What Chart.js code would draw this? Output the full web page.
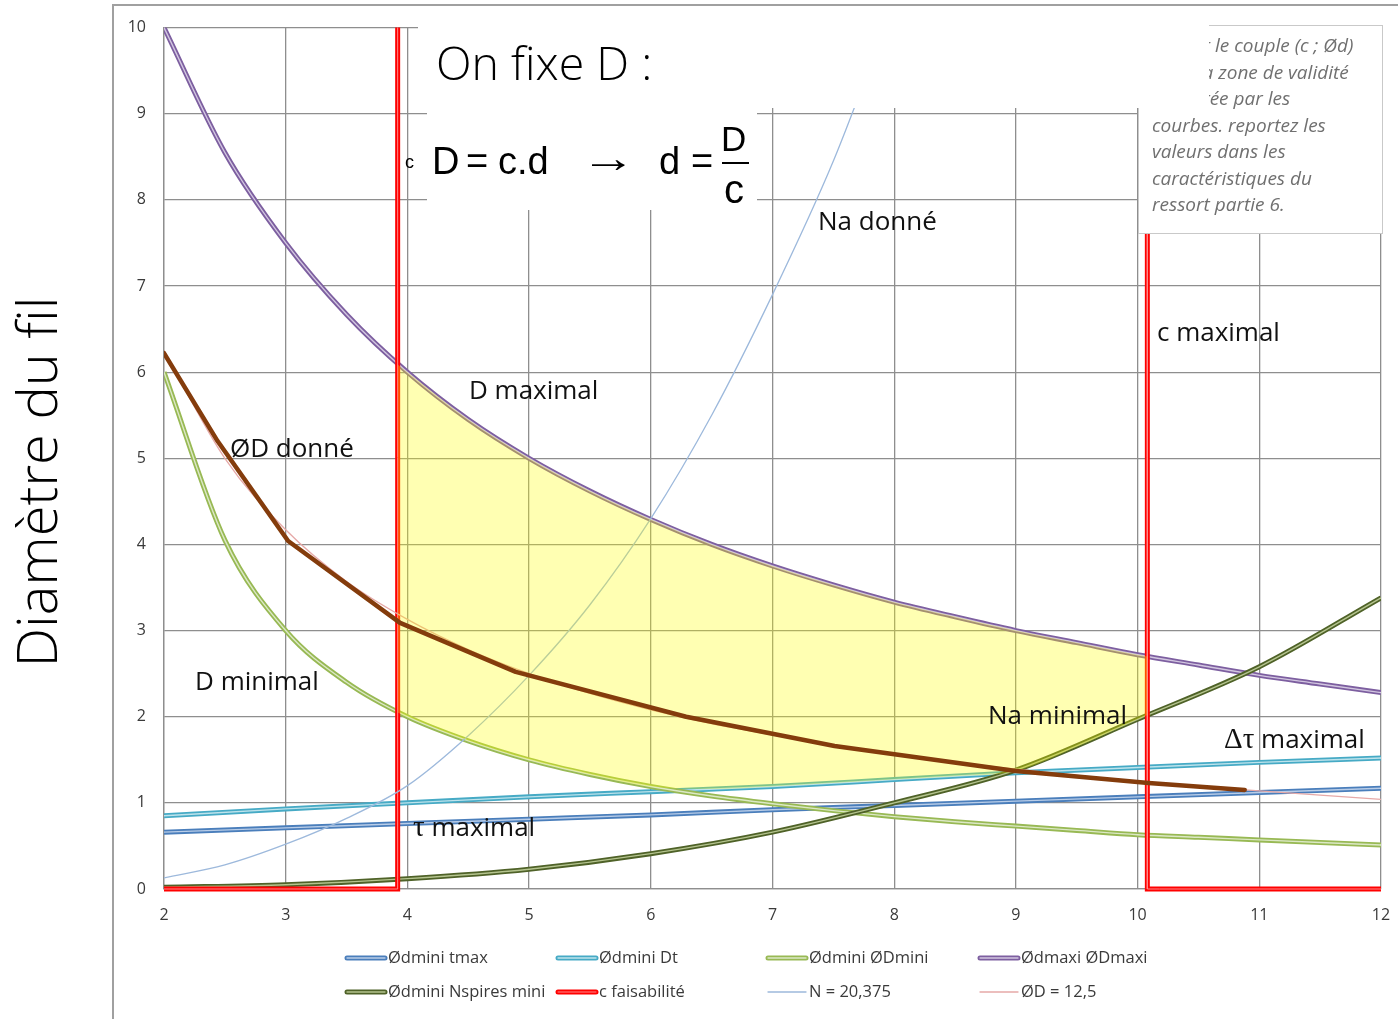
<!DOCTYPE html>
<html>
<head>
<meta charset="utf-8">
<title>Diamètre du fil en fonction de l'indice c</title>
<script src="https://cdn.jsdelivr.net/npm/chart.js@4.4.0/dist/chart.umd.min.js"></script>
<style>
  html, body { margin: 0; padding: 0; background: #ffffff; }
  #wrap { position: relative; width: 1398px; height: 1019px; }
</style>
</head>
<body>
<div id="wrap"><canvas id="chart" width="1398" height="1019"></canvas></div>
<script>
// ---- Abscissas (spring index c) ----
const cInt  = [2, 3, 4, 5, 6, 7, 8, 9, 10, 11, 12];
const cHalf = [2, 2.5, 3, 3.5, 4, 4.5, 5, 5.5, 6, 6.5, 7, 7.5, 8, 8.5, 9, 9.5, 10, 10.5, 11, 11.5, 12];

// ---- Wire diameter limits (Ød) ----
const dminTmax    = [0.66, 0.71, 0.76, 0.81, 0.86, 0.92, 0.97, 1.02, 1.07, 1.12, 1.17];          // on cInt
const dminDt      = [0.85, 0.93, 1.00, 1.07, 1.13, 1.19, 1.27, 1.35, 1.41, 1.47, 1.52];          // on cInt
const dminDmini   = [6.0, 4.05, 3.0, 2.4, 2.0, 1.72, 1.5, 1.33, 1.19, 1.08, 0.99, 0.91, 0.84,
                     0.78, 0.73, 0.68, 0.63, 0.6, 0.57, 0.54, 0.51];                            // on cHalf
const dmaxiDmaxi  = [10.0, 8.55, 7.5, 6.67, 6.0, 5.45, 5.0, 4.62, 4.29, 4.0, 3.75, 3.53, 3.33,
                     3.16, 3.0, 2.86, 2.72, 2.6, 2.48, 2.38, 2.28];                             // on cHalf
const dminNspires = [0.02, 0.05, 0.12, 0.23, 0.41, 0.66, 1.0, 1.38, 1.97, 2.58, 3.38];           // on cInt

// c faisabilité : step between the two admissible c limits
const cFaisC = [2, 3.85, 3.92, 3.92, 10.08, 10.08, 10.18, 12];
const cFaisD = [0, 0, 0, 12, 12, 0, 0, 0];

// N = 20,375
const nC = [2, 2.5, 3, 3.5, 4, 4.5, 5, 5.5, 6, 6.5, 7, 7.5, 8];
const nD = [0.13, 0.28, 0.52, 0.82, 1.2, 1.78, 2.48, 3.3, 4.3, 5.5, 6.9, 8.45, 10.3];

// ØD = 12,5
const odD = [6.25, 5.0, 4.17, 3.57, 3.13, 2.78, 2.5, 2.27, 2.08, 1.92, 1.79, 1.67, 1.56,
             1.47, 1.39, 1.32, 1.25, 1.19, 1.14, 1.09, 1.04];                                   // on cHalf

// ØD donné (hand traced polyline)
const givenC = [2.0, 2.44, 3.02, 3.94, 4.89, 6.29, 7.51, 9.0, 10.09, 10.88];
const givenD = [6.22, 5.2, 4.04, 3.09, 2.52, 2.0, 1.66, 1.37, 1.23, 1.15];

// Validity zone (between the lower and upper limits, inside c faisabilité)
const zoneC      = [3.92, 4, 4.5, 5, 5.5, 6, 6.5, 7, 7.5, 8, 8.5, 9, 9.5, 10, 10.08];
const zoneTop    = [6.09, 6.0, 5.45, 5.0, 4.62, 4.29, 4.0, 3.75, 3.53, 3.33, 3.16, 3.0, 2.86, 2.72, 2.7];
const zoneBottom = [2.05, 2.0, 1.72, 1.5, 1.33, 1.19, 1.16, 1.19, 1.23, 1.27, 1.31, 1.37, 1.65, 1.97, 2.02];

// ---- Axis ticks ----
const xTicks = [2, 3, 4, 5, 6, 7, 8, 9, 10, 11, 12];
const yTicks = [0, 1, 2, 3, 4, 5, 6, 7, 8, 9, 10];

// ---- Text placed on the plot (data coordinates) ----
const notes = [
  { text: 'D maximal',  c: 4.506, d: 5.775 },
  { text: 'ØD donné',   c: 2.542, d: 5.104 },
  { text: 'D minimal',  c: 2.255, d: 2.396 },
  { text: 'Na donné',   c: 7.374, d: 7.731 },
  { text: 'c maximal',  c: 10.159, d: 6.447 },
  { text: 'Na minimal', c: 8.771, d: 2.002 },
];
const greekNotes = [
  { greek: 'Δτ', text: ' maximal', c: 10.71, d: 1.725 },
  { greek: 'τ',  text: ' maximal', c: 4.046, d: 0.706 },
];
const helpLines = [
  'Choisir le couple (c ; Ød)',
  'dans la zone de validité',
  'délimitée par les',
  'courbes. reportez les',
  'valeurs dans les',
  'caractéristiques du',
  'ressort partie 6.'
];

const pts = (xs, ys) => xs.map((x, i) => ({ x: x, y: ys[i] }));

// A main stroke plus a pale core line on top of it
function doubleLine(label, xs, ys, dark, pale, order, extra, coreWidth) {
  return [
    Object.assign({ label: label, data: pts(xs, ys), borderColor: dark, backgroundColor: dark,
      borderWidth: 5, pointRadius: 0, cubicInterpolationMode: 'monotone', fill: false,
      order: order, inLegend: true, swatch: 'double', pale: pale, coreWidth: coreWidth || 1.4 }, extra || {}),
    Object.assign({ label: label + ' (core)', data: pts(xs, ys), borderColor: pale,
      borderWidth: coreWidth || 1.4, pointRadius: 0, cubicInterpolationMode: 'monotone', fill: false,
      order: order - 0.5 }, extra || {})
  ];
}

const datasets = [].concat(
  doubleLine('Ødmini tmax', cInt, dminTmax, '#4A7EBB', '#B9CDE8', 80),
  doubleLine('Ødmini Dt', cInt, dminDt, '#46AAC5', '#BEE3EC', 70),
  doubleLine('Ødmini ØDmini', cHalf, dminDmini, '#98B954', '#DCE8C6', 60),
  doubleLine('Ødmaxi ØDmaxi', cHalf, dmaxiDmaxi, '#7D5FA0', '#D2C6E0', 50),
  doubleLine('Ødmini Nspires mini', cInt, dminNspires, '#4F6228', '#B5C48F', 40),
  doubleLine('c faisabilité', cFaisC, cFaisD, '#FF0000', '#FF8A8A', 30,
             { tension: 0, cubicInterpolationMode: 'default', clip: { left: 4, right: 4, top: 0, bottom: 4 } }, 1),
  [{ label: 'N = 20,375', data: pts(nC, nD), borderColor: '#9DB9DC', borderWidth: 1.3,
     pointRadius: 0, cubicInterpolationMode: 'monotone', fill: false, order: 20,
     inLegend: true, swatch: 'thin' }],
  [{ label: 'ØD = 12,5', data: pts(cHalf, odD), borderColor: '#E6A9A8', borderWidth: 1.3,
     pointRadius: 0, cubicInterpolationMode: 'monotone', fill: false, order: 15,
     inLegend: true, swatch: 'thin' }]
);

const zoneBottomIndex = datasets.length;
datasets.push({ label: 'zone (bas)', data: pts(zoneC, zoneBottom), borderColor: 'rgba(0,0,0,0)',
  borderWidth: 0, pointRadius: 0, cubicInterpolationMode: 'monotone', fill: false, order: 11 });
datasets.push({ label: 'zone de validité', data: pts(zoneC, zoneTop), borderColor: 'rgba(0,0,0,0)',
  backgroundColor: 'rgba(255,255,0,0.30)', borderWidth: 0, pointRadius: 0,
  cubicInterpolationMode: 'monotone', fill: { target: zoneBottomIndex }, order: 10 });
datasets.push({ label: 'ØD donné', data: pts(givenC, givenD), borderColor: '#843C0C',
  borderWidth: 4.5, pointRadius: 0, tension: 0, fill: false, order: 1,
  borderJoinStyle: 'round', borderCapStyle: 'round' });

// ---- Outer frame of the chart area ----
const framePlugin = {
  id: 'frame',
  beforeDraw(chart) {
    const ctx = chart.ctx;
    ctx.save();
    ctx.fillStyle = '#ffffff';
    ctx.fillRect(0, 0, chart.width, chart.height);
    ctx.strokeStyle = '#A0A0A0';
    ctx.lineWidth = 2;
    ctx.beginPath();
    ctx.moveTo(113, chart.height);
    ctx.lineTo(113, 5);
    ctx.lineTo(chart.width, 5);
    ctx.stroke();
    ctx.restore();
  }
};

// ---- Text boxes, notes, axis title and legend ----
const overlayPlugin = {
  id: 'overlay',
  afterDraw(chart) {
    const ctx = chart.ctx;
    const xs = chart.scales.x, ys = chart.scales.y;
    ctx.save();

    // help box (top right)
    ctx.fillStyle = '#ffffff';
    ctx.fillRect(1138, 25, 245, 209);
    ctx.strokeStyle = '#C9C9C9';
    ctx.lineWidth = 1;
    ctx.strokeRect(1138.5, 25.5, 244, 208);
    ctx.fillStyle = '#707070';
    ctx.font = 'italic 19px "Open Sans"';
    ctx.textBaseline = 'middle';
    ctx.textAlign = 'left';
    helpLines.forEach((t, i) => ctx.fillText(t, 1152, 47 + i * 26.5));

    // white panels of the formula
    ctx.fillStyle = '#ffffff';
    ctx.fillRect(418, 7, 791, 101);
    ctx.fillRect(427, 108, 330, 102);

    ctx.fillStyle = '#000000';
    ctx.font = '300 46.5px "Open Sans"';
    ctx.textBaseline = 'middle';
    ctx.fillText('On fixe D :', 436, 67);

    ctx.textBaseline = 'alphabetic';
    ctx.font = '18px "Liberation Sans"';
    ctx.fillText('c', 405, 168);
    ctx.font = '38px "Liberation Sans"';
    ctx.fillText('D', 432, 174);
    ctx.fillText('=', 466, 174);
    ctx.fillText('c.d', 498, 174);
    // long thin arrow
    ctx.save();
    ctx.translate(581, 172);
    ctx.scale(1.45, 1.1);
    ctx.font = '38px "Liberation Serif"';
    ctx.fillText('→', 0, 0);
    ctx.restore();
    ctx.font = '38px "Liberation Sans"';
    ctx.fillText('d', 659, 174);
    ctx.fillText('=', 691, 174);
    ctx.font = '35px "Liberation Sans"';
    ctx.fillText('D', 721, 151);
    ctx.fillRect(722, 162, 27, 2);
    ctx.font = '40px "Liberation Sans"';
    ctx.fillText('c', 724, 203);

    // notes on the plot
    ctx.font = '26px "Open Sans"';
    ctx.textBaseline = 'middle';
    ctx.fillStyle = '#111111';
    notes.forEach(n => {
      ctx.fillText(n.text, xs.getPixelForValue(n.c), ys.getPixelForValue(n.d));
    });
    greekNotes.forEach(n => {
      const gx = xs.getPixelForValue(n.c), gy = ys.getPixelForValue(n.d);
      ctx.font = '29px "Liberation Serif"';
      ctx.fillText(n.greek, gx, gy);
      const w = ctx.measureText(n.greek).width;
      ctx.font = '26px "Open Sans"';
      ctx.fillText(n.text, gx + w, gy);
    });

    // y axis title
    ctx.save();
    ctx.translate(41, 482);
    ctx.rotate(-Math.PI / 2);
    ctx.textAlign = 'center';
    ctx.textBaseline = 'middle';
    ctx.fillStyle = '#000000';
    ctx.font = '300 56px "Open Sans"';
    ctx.fillText('Diamètre du fil', 0, 0);
    ctx.restore();

    // legend (4 columns x 2 rows)
    const cols = [345, 556, 766, 978];
    const rows = [958, 992];
    const items = chart.data.datasets.filter(d => d.inLegend);
    ctx.font = '16.5px "Open Sans"';
    ctx.textBaseline = 'middle';
    ctx.textAlign = 'left';
    items.forEach((d, i) => {
      const x = cols[i % 4], y = rows[Math.floor(i / 4)];
      ctx.lineCap = 'round';
      if (d.swatch === 'double') {
        ctx.strokeStyle = d.borderColor; ctx.lineWidth = 5;
        ctx.beginPath(); ctx.moveTo(x + 2, y); ctx.lineTo(x + 40, y); ctx.stroke();
        ctx.strokeStyle = d.pale; ctx.lineWidth = d.coreWidth;
        ctx.beginPath(); ctx.moveTo(x + 2, y); ctx.lineTo(x + 40, y); ctx.stroke();
      } else {
        ctx.strokeStyle = d.borderColor; ctx.lineWidth = 1.3;
        ctx.beginPath(); ctx.moveTo(x + 2, y); ctx.lineTo(x + 40, y); ctx.stroke();
      }
      ctx.fillStyle = '#3A3A3A';
      ctx.fillText(d.label, x + 43, y);
    });

    ctx.restore();
  }
};

const gridColor = '#8E8E8E';
new Chart(document.getElementById('chart'), {
  type: 'line',
  data: { datasets: datasets },
  plugins: [framePlugin, overlayPlugin],
  options: {
    responsive: false,
    animation: false,
    devicePixelRatio: 1,
    layout: { padding: { left: 113, top: 24, right: 17, bottom: 90 } },
    plugins: { legend: { display: false }, tooltip: { enabled: false } },
    elements: { point: { radius: 0 } },
    scales: {
      x: {
        type: 'linear', min: 2, max: 12,
        afterBuildTicks: s => { s.ticks = xTicks.map(v => ({ value: v })); },
        afterFit: s => { s.height = 40; },
        grid: { color: gridColor, lineWidth: 1.3, drawTicks: true, tickLength: 17,
                tickColor: 'rgba(0,0,0,0)' },
        border: { color: gridColor, width: 1.3 },
        ticks: { padding: 0, color: '#3A3A3A', font: { family: 'Open Sans', size: 16 },
                 autoSkip: false, maxRotation: 0 }
      },
      y: {
        type: 'linear', min: 0, max: 10,
        afterBuildTicks: s => { s.ticks = yTicks.map(v => ({ value: v })); },
        afterFit: s => { s.width = 51; },
        grid: { color: gridColor, lineWidth: 1.3, drawTicks: false },
        border: { color: gridColor, width: 1.3 },
        ticks: { padding: 18, color: '#3A3A3A', font: { family: 'Open Sans', size: 16 } }
      }
    }
  }
});
</script>
</body>
</html>
